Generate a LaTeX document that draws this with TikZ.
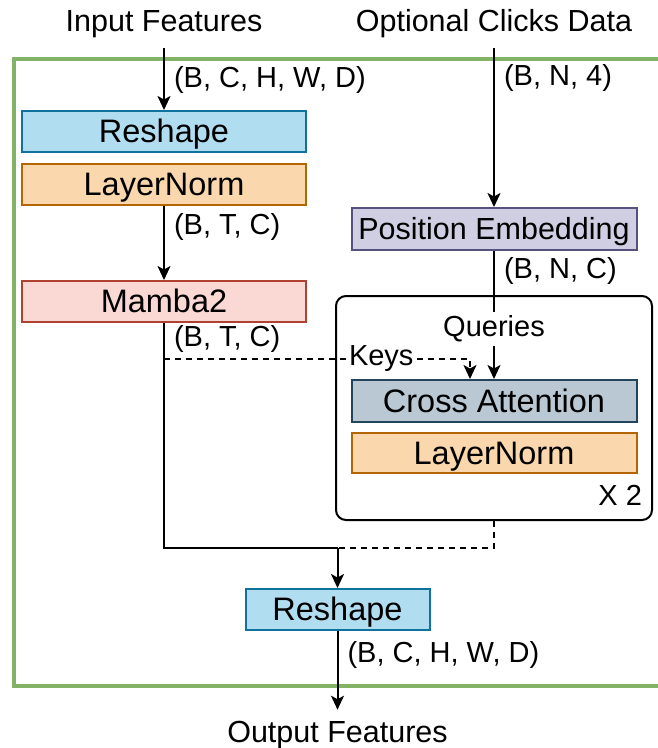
\documentclass[tikz,border=0pt]{standalone}
\usepackage{fontspec}
\setmainfont{Liberation Sans}
\usetikzlibrary{positioning,arrows.meta}
\definecolor{blueF}{HTML}{B1DDF0}
\definecolor{blueD}{HTML}{10739E}
\definecolor{orangeF}{HTML}{FAD7AC}
\definecolor{orangeD}{HTML}{B46504}
\definecolor{redF}{HTML}{FAD9D5}
\definecolor{redD}{HTML}{AE4132}
\definecolor{purpleF}{HTML}{D0CEE2}
\definecolor{purpleD}{HTML}{56517E}
\definecolor{greyF}{HTML}{BAC8D3}
\definecolor{greyD}{HTML}{23445D}
\definecolor{frameG}{HTML}{82B366}
\tikzset{%
  every block/.style={
    draw,
    line width=2pt,
    minimum width=284pt,
    minimum height=41pt,
    inner sep=0pt,
    text height=22pt,
    text depth=0pt,
    font=\fontsize{32.5}{38}\selectfont
  },
  block blue/.style={every block,fill=blueF,draw=blueD},
  block orange/.style={every block,fill=orangeF,draw=orangeD},
  block red/.style={every block,fill=redF,draw=redD},
  block purple/.style={every block,fill=purpleF,draw=purpleD},
  block grey/.style={every block,fill=greyF,draw=greyD},
}

\begin{document}
\begin{tikzpicture}[x=1pt,y=-1pt,line width=2pt,>={Stealth[length=14pt,width=13pt,inset=3.5pt]}]
      \tikzstyle{title}=[font=\fontsize{30.5}{36}\selectfont,anchor=base,inner xsep=0pt,inner ysep=10pt]
      \tikzstyle{lbl}=[font=\fontsize{29}{34}\selectfont,anchor=west,inner sep=0pt,xshift=9pt]
      \tikzstyle{cut lbl}=[font=\fontsize{29}{34}\selectfont,fill=white,inner xsep=2pt,inner ysep=4pt]
      \tikzstyle{dash line}=[dash pattern=on 6pt off 5pt]

      \useasboundingbox (0,0) rectangle (658,748);
      \draw[frameG,line width=4pt] (14,58.5) rectangle (672,685.5);

      \node[title] (in) at (164,31) {Input Features};
      \node[title] (clk) at (494,31) {Optional Clicks Data};
      \node[title] (out) at (337.5,742) {Output Features};

      \node[block blue] (rs1) at (164,131.5) {Reshape};
      \node[block orange,below=10pt of rs1] (ln1) {LayerNorm};
      \node[block red,below=74pt of ln1] (mb) {Mamba2};

      \node[block purple,minimum width=285pt,minimum height=42pt,text height=21pt,font=\fontsize{30.5}{36}\selectfont] (pe) at (494,229) {Position Embedding};
      \node[draw,rounded corners=10pt,minimum width=316pt,minimum height=224pt] (rep) at (494,408) {};
      \node[block grey,minimum width=285pt,minimum height=42pt] (ca) at (494,401) {Cross Attention};
      \node[block orange,minimum width=285pt,minimum height=40pt,below=9pt of ca] (ln2) {LayerNorm};
      \node[font=\fontsize{29}{34}\selectfont,anchor=south east,inner sep=0pt] (x2) at ([xshift=-10pt,yshift=15pt]rep.south east) {X 2};

      \node[block blue,minimum width=184pt] (rs3) at (337.5,609.5) {Reshape};

      \coordinate[above=40pt of rs3] (jn);
      \coordinate[below=36pt of mb] (ks);
      \coordinate[left=24pt of ca.north] (kt);

      \draw[->] (in) -- node[lbl,pos=.52] {(B, C, H, W, D)} (rs1);
      \draw[->] (ln1) -- node[lbl,pos=.28] {(B, T, C)} (mb);
      \draw[->] (clk) -- node[lbl,pos=.19] {(B, N, 4)} (pe);
      \draw[->] (pe) -- node[lbl,pos=.16] {(B, N, C)} node[cut lbl,pos=.61] {Queries} (ca);
      \draw[dash line,->] (ks) -- node[cut lbl,pos=.71] {Keys} (ks -| kt) -- (kt);

      \draw (mb) -- node[lbl,pos=.073] {(B, T, C)} (mb |- jn) -- (jn);
      \draw[dash line] (rep.south -| ca) -- (jn -| ca) -- (jn);
      \draw[->] (jn) -- (rs3);
      \draw[->] (rs3) -- node[lbl,pos=.31] {(B, C, H, W, D)} (out);
  \end{tikzpicture}
\end{document}
